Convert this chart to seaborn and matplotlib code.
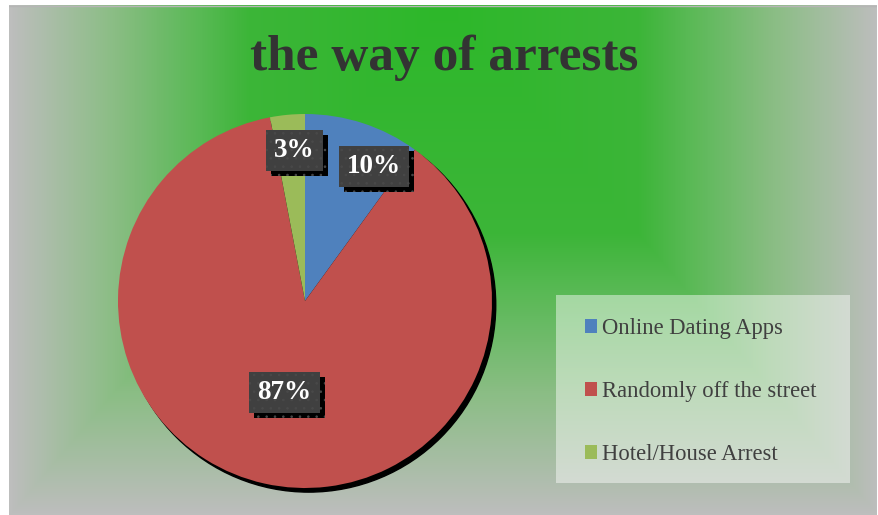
import numpy as np
import matplotlib
matplotlib.use("Agg")
import matplotlib.pyplot as plt
import matplotlib.patheffects as pe
from matplotlib.colors import LinearSegmentedColormap
from matplotlib.patches import Rectangle, Circle
import seaborn as sns

# ---- data ----
categories = ["Online Dating Apps", "Randomly off the street", "Hotel/House Arrest"]
values = [10, 87, 3]
pct_labels = ["10%", "87%", "3%"]
title = "the way of arrests"

sns.set_theme(style="white")
plt.rcParams["font.family"] = ["Liberation Serif", "DejaVu Serif"]
plt.rcParams["hatch.linewidth"] = 0.6
colors = sns.color_palette(["#4f81bd", "#c0504d", "#9bbb59"])

W, H, DPI = 879, 515, 100
fig = plt.figure(figsize=(W / DPI, H / DPI), dpi=DPI)
fig.patch.set_facecolor("white")

# ---- background gradient (chart area) ----
x0, x1, y0, y1 = 9, 877, 5, 515
bg = fig.add_axes([x0 / W, 0, (x1 - x0) / W, (y1 - y0) / H])
bg.set_axis_off()
gw, gh = x1 - x0, y1 - y0
xx, yy = np.meshgrid(np.arange(gw) + 0.5, np.arange(gh) + 0.5)
cx = 444 - x0
t = np.maximum(np.abs(xx - cx) / (gw / 2), yy / gh)
t = np.clip(t, 0, 1)
cmap = LinearSegmentedColormap.from_list(
    "bg",
    [(0.0, "#2db82a"), (0.45, "#3cb538"), (0.56, "#58b954"),
     (0.76, "#8abd84"), (1.0, "#bdbebd")])
bg.imshow(cmap(t), aspect="auto", extent=[0, 1, 0, 1], interpolation="bilinear")
bg.set_xlim(0, 1); bg.set_ylim(0, 1)
bg.plot([0, 1], [0.999, 0.999], color="#b5b5b5", lw=1)

# ---- pie ----
pcx, pcy, R = 305, 301, 187
half = 1.1 * R
ax = fig.add_axes([(pcx - half) / W, (H - pcy - half) / H, 2 * half / W, 2 * half / H])
ax.set_xlim(-1.1, 1.1); ax.set_ylim(-1.1, 1.1)
ax.set_aspect("equal")
ax.set_axis_off()
ax.patch.set_alpha(0)

ax.add_patch(Circle((0.02, -0.022), 1.0, color="black", zorder=0))
wedges, _ = ax.pie(values, colors=colors, startangle=90, counterclock=False,
                   radius=1.0, wedgeprops=dict(linewidth=0, antialiased=True))
ax.set_xlim(-1.1, 1.1); ax.set_ylim(-1.1, 1.1)
for w in wedges:
    w.set_zorder(2)

label_r = [0.81, 0.5, 0.81]
label_shift = [(0.12, -0.05), (0.0, 0.0), (0.02, 0.0)]
for w, lab, r, (sx, sy) in zip(wedges, pct_labels, label_r, label_shift):
    ang = np.deg2rad((w.theta1 + w.theta2) / 2)
    tx, ty = r * np.cos(ang) + sx, r * np.sin(ang) + sy
    txt = ax.text(tx, ty, lab, ha="center", va="center", color="white",
                  fontsize=19.5, fontweight="bold", zorder=5,
                  bbox=dict(boxstyle="square,pad=0.3", facecolor="#404040",
                            edgecolor="#494949", linewidth=0, hatch=".."))
    txt.get_bbox_patch().set_path_effects(
        [pe.SimplePatchShadow(offset=(3.6, -3.6), shadow_rgbFace="black", alpha=1.0),
         pe.Normal()])

# ---- title ----
fig.text(444 / W, (H - 70) / H, title, ha="center", va="baseline",
         fontsize=37, fontweight="bold", color="#333333")

# ---- legend ----
lx0, lx1, ly0, ly1 = 556, 850, 295, 483
fig.patches.append(Rectangle((lx0 / W, (H - ly1) / H), (lx1 - lx0) / W, (ly1 - ly0) / H,
                             transform=fig.transFigure, facecolor="white", alpha=0.45,
                             edgecolor="none", zorder=1))
leg = fig.legend(wedges, categories, loc="upper left",
                 bbox_to_anchor=(585 / W, (H - 318) / H), frameon=False,
                 fontsize=16.3, labelcolor="#404040", handlelength=0.55,
                 handleheight=0.55, handletextpad=0.22, labelspacing=1.86,
                 borderpad=0, borderaxespad=0)

fig.savefig("out.png", dpi=DPI)
